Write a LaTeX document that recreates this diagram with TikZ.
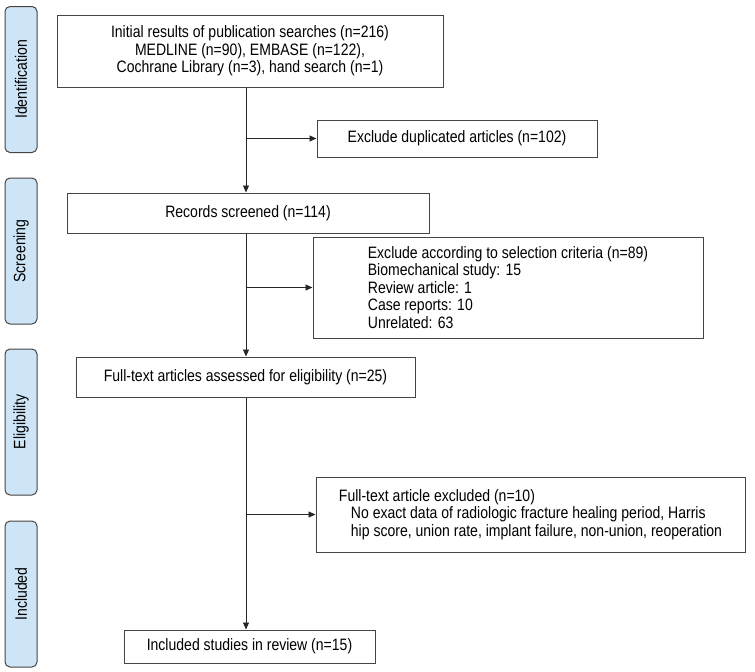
\documentclass[tikz,border=0pt]{standalone}
\usepackage{fontspec}
\setmainfont{Liberation Sans}[FakeStretch=0.85]
\usetikzlibrary{arrows.meta}
\definecolor{stageblue}{RGB}{205,229,247}
\definecolor{boxline}{RGB}{72,68,66}

\begin{document}
\begin{tikzpicture}[x=1pt, y=-1pt, font=\fontsize{16.5}{17.5}\selectfont,
    stage/.style={draw=boxline, fill=stageblue, rounded corners=5pt, line width=1pt,
        minimum width=146pt, minimum height=32pt, inner sep=0pt, rotate=90},
    box/.style={draw=boxline, rectangle, line width=1pt, inner sep=0pt, align=center},
    arrow/.style={-{Triangle[length=7pt,width=6pt]}, line width=0.9pt, black!85}]
    \useasboundingbox (0,0) rectangle (755,672);

    % Stage bars
    \node[stage] (idbar) at (21,79.5) {Identification};
    \node[stage] (scbar) at (21,251) {Screening};
    \node[stage] (elbar) at (21,422) {Eligibility};
    \node[stage] (inbar) at (21,594) {Included};

    % Identification
    \node[box, minimum width=386pt, minimum height=72pt] (search) at (250,51)
        {Initial results of publication searches (n=216)\\MEDLINE (n=90), EMBASE (n=122),\\Cochrane Library (n=3), hand search (n=1)};
    \node[box, minimum width=280pt, minimum height=37pt] (dup) at (457,138.5) {Exclude duplicated articles (n=102)};

    % Screening
    \node[box, minimum width=362pt, minimum height=40pt] (screened) at (248,213) {Records screened (n=114)};
    \node[box, align=left, minimum width=390pt, minimum height=101pt] (crit) at (508,287.5)
        {Exclude according to selection criteria (n=89)\\Biomechanical study: 15\\Review article: 1\\Case reports: 10\\Unrelated: 63};

    % Eligibility
    \node[box, minimum width=339pt, minimum height=40pt] (fulltext) at (245.5,377) {Full-text articles assessed for eligibility (n=25)};
    \node[box, align=left, minimum width=429pt, minimum height=75pt] (excl) at (530.5,514.5)
        {Full-text article excluded (n=10)\\\hspace*{12pt}No exact data of radiologic fracture healing period, Harris\\\hspace*{12pt}hip score, union rate, implant failure, non-union, reoperation};

    % Included
    \node[box, minimum width=251pt, minimum height=33pt] (included) at (249.5,646.5) {Included studies in review (n=15)};

    % Arrows
    \coordinate (b1) at (246,138.5);
    \coordinate (b2) at (246,287.5);
    \coordinate (b3) at (246,514.5);
    \draw[arrow] (search.south -| b1) -- (screened.north -| b1);
    \draw[arrow] (b1) -- (dup.west);
    \draw[arrow] (screened.south -| b2) -- (fulltext.north -| b2);
    \draw[arrow] (b2) -- (crit.west);
    \draw[arrow] (fulltext.south -| b3) -- (included.north -| b3);
    \draw[arrow] (b3) -- (excl.west);
\end{tikzpicture}
\end{document}
